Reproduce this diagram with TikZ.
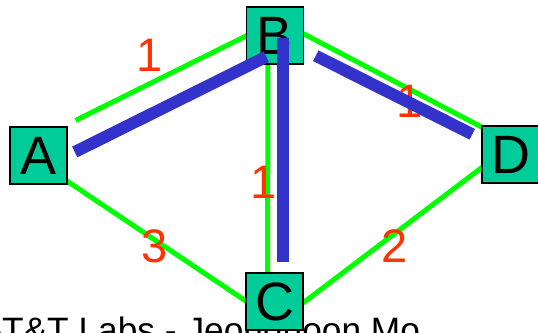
\documentclass[tikz,border=0pt]{standalone}
\usepackage{fontspec}
\setmainfont{Liberation Sans}
\usetikzlibrary{calc}
\definecolor{nodefill}{HTML}{00CC99}
\definecolor{linkgreen}{HTML}{00FF00}
\definecolor{treeblue}{HTML}{3333CC}
\definecolor{costred}{HTML}{FF3300}
\begin{document}
\begin{tikzpicture}[x=1pt,y=-1pt,
  router/.style={draw=black, line width=1.5pt, fill=nodefill, minimum width=57pt, minimum height=57pt, inner sep=0pt, font=\fontsize{54}{54}\selectfont},
  link/.style={draw=linkgreen, line width=5pt},
  tree/.style={draw=treeblue, line width=12pt},
  cost/.style={text=costred, inner sep=0pt, font=\fontsize{47}{47}\selectfont}]
\useasboundingbox (0,0) rectangle (538,332);
\clip (0,0) rectangle (538,332);
% footer text
\node[anchor=base west, inner sep=0pt, font=\fontsize{35.3}{35.3}\selectfont] (foot) at (-19,342) {AT\&T Labs - Jeonghoon Mo};
% node positions
\coordinate (pA) at (38.5,155.5);
\coordinate (pB) at (275,35.5);
\coordinate (pC) at (274.5,301.5);
\coordinate (pD) at (510.5,154.5);
% green links
\path[link] ($(pA)+(37,-35)$) coordinate (ab1) -- ($(pB)+(-28,0)$) coordinate (ab2);
\path[link] ($(pB)+(28,-2)$) coordinate (bd1) -- ($(pD)+(-28,-27)$) coordinate (bd2);
\path[link] ($(pB)+(-7,28)$) coordinate (bc1) -- ($(pC)+(-7,-28)$) coordinate (bc2);
\path[link] ($(pA)+(28.5,25.5)$) coordinate (ac1) -- ($(pC)+(-28,0)$) coordinate (ac2);
\path[link] ($(pC)+(28.5,1.5)$) coordinate (cd1) -- ($(pD)+(-28,12.5)$) coordinate (cd2);
% routers
\node[router] (A) at (pA) {\raisebox{-2pt}{A}};
\node[router] (B) at (pB) {\raisebox{-2pt}{B}};
\node[router] (C) at (pC) {\raisebox{-2pt}{C}};
\node[router] (D) at (pD) {\raisebox{-2pt}{D}};
% costs
\node[cost] (c1) at (150,55) {1};
\node[cost] (c2) at (410,101) {1};
\node[cost] (c3) at (264,182) {1};
\node[cost] (c4) at (155,246) {3};
\node[cost] (c5) at (395,246) {2};
% multicast tree (blue)
\path[tree] ($(A.east)+(7,-3.5)$) coordinate (t1) -- ($(B.south west)+(20.5,-8)$) coordinate (t2);
\path[tree] ($(B.south east)+(11.5,-9)$) coordinate (t3) -- ($(D.north west)+(-9,9)$) coordinate (t4);
\path[tree] ($(B.north)+(8,32)$) coordinate (t5) -- ($(C.north)+(8.5,-10)$) coordinate (t6);
\end{tikzpicture}
\end{document}
